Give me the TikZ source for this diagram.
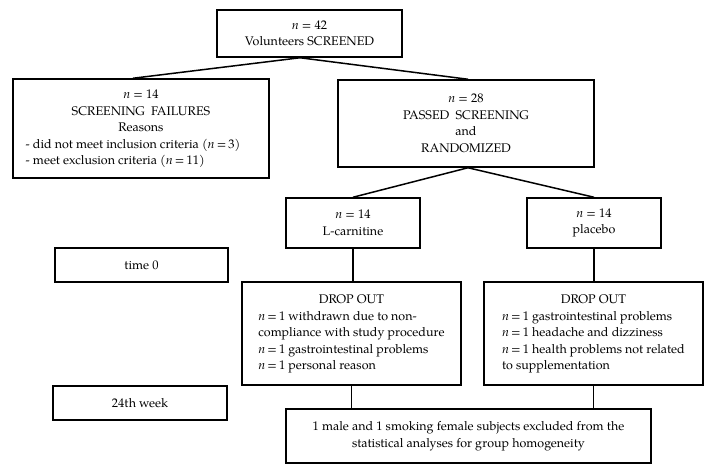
\documentclass[tikz,border=0pt]{standalone}
\usepackage{fontspec}
\setmainfont{texgyrepagella}[Extension=.otf,UprightFont=*-regular,ItalicFont=*-italic,BoldFont=*-bold,BoldItalicFont=*-bolditalic]
\newcommand{\nn}{\textit{n}}
\begin{document}
\begin{tikzpicture}[x=1pt,y=-1pt,
  box/.style={draw, line width=1.5pt, inner sep=0pt, align=center,
    font=\fontsize{12.5}{16.5}\selectfont},
  link/.style={line width=1.5pt}]
\useasboundingbox (0,0) rectangle (716,475);
\node[box, minimum width=185pt, minimum height=47pt] (top) at (309.5,33.5)
  {\nn{} = 42\\Volunteers SCREENED};
\node[box, minimum width=256pt, minimum height=99pt] (fail) at (141,128.5)
  {\begin{tabular}{@{}l@{\hspace{16pt}}}
   \multicolumn{1}{c}{\nn{} = 14}\\
   \multicolumn{1}{c}{SCREENING\ \ FAILURES}\\
   \multicolumn{1}{c}{Reasons}\\
   - did not meet inclusion criteria (\nn{}\,=\,3)\\
   - meet exclusion criteria (\nn{}\,=\,11)
   \end{tabular}};
\node[box, minimum width=256pt, minimum height=87pt] (pass) at (466,123.5)
  {\nn{} = 28\\PASSED\ \ SCREENING\\and\\RANDOMIZED};
\node[box, minimum width=134pt, minimum height=50pt] (carn) at (353,223)
  {\nn{} = 14\\L-carnitine};
\node[box, minimum width=134pt, minimum height=50pt] (plac) at (594,223)
  {\nn{} = 14\\placebo};
\node[box, minimum width=173pt, minimum height=34pt] (time0) at (141.5,265)
  {time 0};
\node[box, minimum width=219pt, minimum height=103pt] (drop1) at (351.5,333.5)
  {\begin{tabular}{@{}l@{}}
   \multicolumn{1}{c}{DROP OUT}\\
   \nn{}\,=\,1 withdrawn due to non-\\
   compliance with study procedure\\
   \nn{}\,=\,1 gastrointestinal problems\\
   \nn{}\,=\,1 personal reason
   \end{tabular}};
\node[box, minimum width=219pt, minimum height=103pt] (drop2) at (593.5,333.5)
  {\begin{tabular}{@{}l@{}}
   \multicolumn{1}{c}{DROP OUT}\\
   \nn{}\,=\,1 gastrointestinal problems\\
   \nn{}\,=\,1 headache and dizziness\\
   \nn{}\,=\,1 health problems not related\\
   to supplementation
   \end{tabular}};
\node[box, minimum width=174pt, minimum height=34pt] (week) at (140,403)
  {24th week};
\node[box, minimum width=365pt, minimum height=54pt] (excl) at (468.5,436)
  {1 male and 1 smoking female subjects excluded from the\\
   statistical analyses for group homogeneity};
\draw[link] ([xshift=-9.5pt]top.south) -- ([xshift=-8pt]fail.north);
\draw[link] ([xshift=-9.5pt]top.south) -- ([xshift=2pt]pass.north);
\draw[link] ([xshift=2pt]pass.south) -- (carn.north);
\draw[link] ([xshift=2pt]pass.south) -- (plac.north);
\draw[link] (carn.south) -- (carn.south |- drop1.north);
\draw[link] (plac.south) -- (plac.south |- drop2.north);
\draw[link] (drop1.south) -- (drop1.south |- excl.north);
\draw[link] (drop2.south) -- (drop2.south |- excl.north);
\end{tikzpicture}
\end{document}
